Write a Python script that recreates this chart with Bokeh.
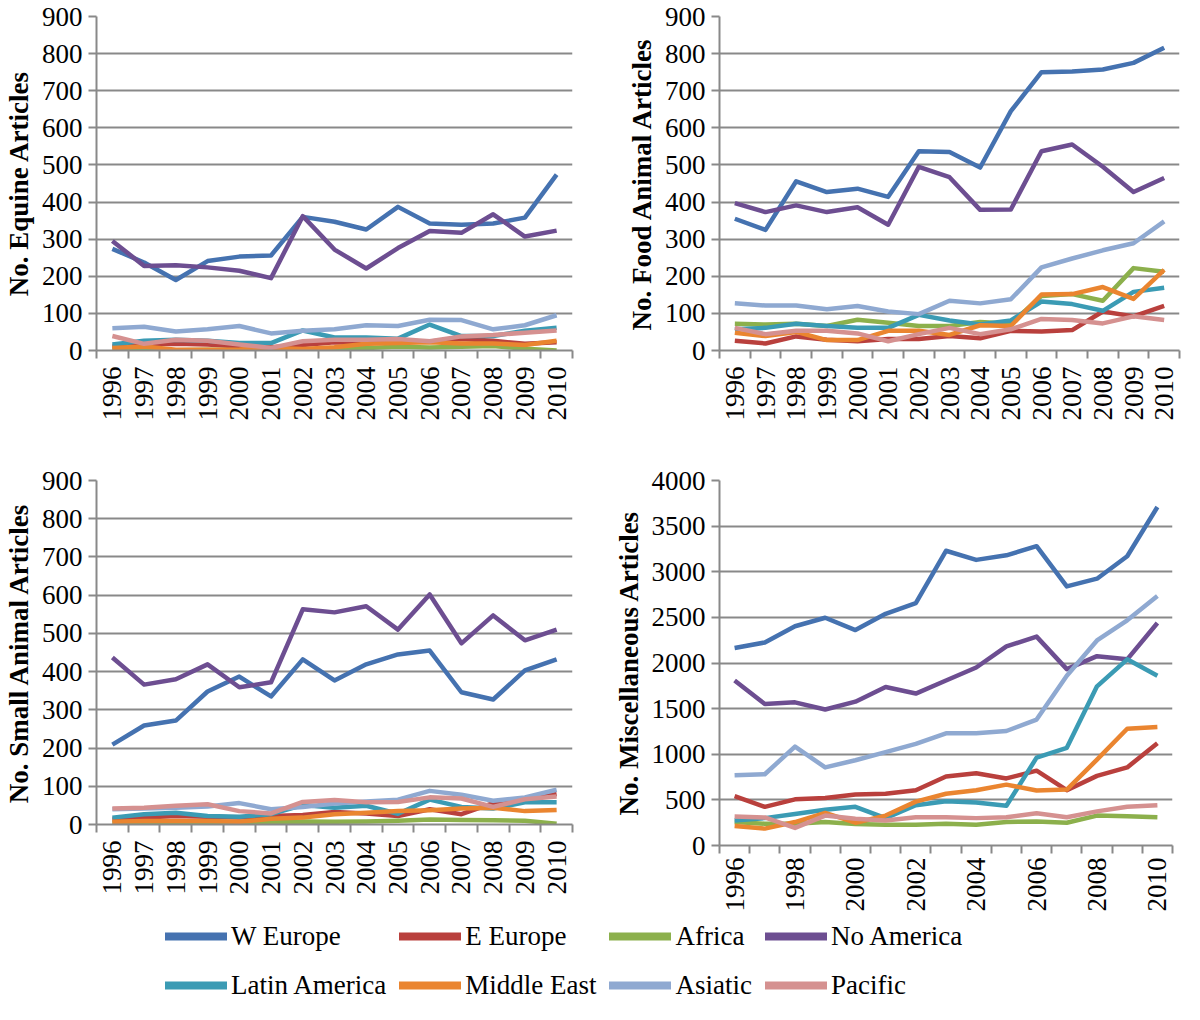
import math
from bokeh.plotting import figure
from bokeh.layouts import column, row
from bokeh.models import Range1d, FixedTicker, Legend, LegendItem
from bokeh.embed import file_html
from bokeh.resources import INLINE

years = list(range(1996, 2011))
regions = ["W Europe", "E Europe", "Africa", "No America",
           "Latin America", "Middle East", "Asiatic", "Pacific"]
colors = ["#4572B0", "#B9403D", "#8CB04C", "#6D4E91",
          "#3B9BB4", "#EA8530", "#8FA9D1", "#D59190"]

# Equine articles
eq_w_europe = [274, 237, 190, 241, 253, 256, 360, 347, 326, 387, 342, 339, 342, 358, 474]
eq_e_europe = [11, 16, 18, 16, 11, 9, 15, 22, 19, 26, 24, 31, 26, 18, 22]
eq_africa = [3, 2, 1, 2, 1, 0, 2, 4, 7, 10, 8, 10, 12, 5, 0]
eq_no_america = [295, 228, 230, 224, 215, 195, 362, 272, 221, 276, 322, 317, 367, 307, 323]
eq_latin_america = [16, 26, 29, 26, 20, 20, 54, 35, 35, 32, 70, 39, 39, 53, 61]
eq_middle_east = [7, 11, 2, 2, 3, 7, 4, 9, 18, 20, 22, 19, 19, 15, 26]
eq_asiatic = [60, 64, 51, 57, 66, 46, 53, 57, 68, 66, 83, 82, 57, 68, 95]
eq_pacific = [39, 18, 29, 26, 16, 7, 25, 29, 29, 31, 25, 38, 42, 48, 54]

# Food animal articles
fa_w_europe = [355, 325, 456, 427, 436, 414, 537, 535, 493, 645, 750, 752, 757, 775, 816]
fa_e_europe = [26, 19, 38, 29, 25, 31, 31, 39, 33, 53, 51, 55, 105, 92, 120]
fa_africa = [72, 70, 72, 66, 83, 75, 66, 66, 77, 72, 147, 152, 134, 222, 212]
fa_no_america = [397, 373, 391, 373, 386, 339, 495, 467, 379, 380, 537, 555, 495, 427, 465]
fa_latin_america = [57, 61, 72, 66, 61, 61, 96, 81, 70, 81, 132, 125, 107, 158, 169]
fa_middle_east = [48, 39, 50, 28, 28, 53, 53, 42, 68, 66, 151, 152, 171, 139, 217]
fa_asiatic = [127, 121, 121, 111, 120, 105, 98, 134, 127, 138, 224, 248, 270, 289, 348]
fa_pacific = [61, 44, 53, 53, 46, 25, 44, 61, 44, 57, 85, 82, 73, 92, 82]

# Small animal articles
sa_w_europe = [209, 259, 272, 348, 387, 335, 432, 377, 419, 445, 455, 346, 327, 403, 432]
sa_e_europe = [13, 18, 22, 20, 18, 22, 25, 33, 29, 22, 40, 27, 56, 66, 80]
sa_africa = [4, 5, 5, 4, 4, 6, 8, 7, 8, 10, 13, 12, 11, 10, 2]
sa_no_america = [437, 366, 380, 419, 359, 372, 563, 555, 571, 510, 602, 474, 547, 482, 510]
sa_latin_america = [18, 27, 31, 22, 20, 27, 51, 44, 49, 28, 65, 46, 42, 58, 58]
sa_middle_east = [7, 9, 9, 9, 7, 15, 18, 27, 31, 35, 37, 42, 44, 35, 38]
sa_asiatic = [40, 42, 44, 47, 56, 40, 46, 55, 60, 65, 88, 78, 62, 71, 91]
sa_pacific = [42, 44, 49, 53, 35, 29, 59, 64, 58, 59, 71, 68, 46, 66, 73]

# Miscellaneous articles
mi_w_europe = [2165, 2225, 2403, 2496, 2361, 2539, 2657, 3230, 3130, 3180, 3280, 2839, 2924, 3170, 3710]
mi_e_europe = [542, 424, 506, 521, 560, 567, 606, 756, 792, 735, 820, 606, 763, 856, 1120]
mi_africa = [257, 239, 239, 257, 235, 228, 228, 239, 228, 257, 264, 250, 328, 321, 310]
mi_no_america = [1808, 1551, 1569, 1491, 1576, 1737, 1665, 1808, 1951, 2182, 2289, 1933, 2075, 2040, 2439]
mi_latin_america = [275, 300, 346, 392, 424, 300, 442, 485, 471, 435, 963, 1070, 1744, 2040, 1861]
mi_middle_east = [214, 185, 257, 357, 250, 328, 481, 567, 606, 667, 603, 613, 941, 1280, 1298]
mi_asiatic = [770, 781, 1084, 856, 934, 1023, 1113, 1230, 1230, 1255, 1380, 1861, 2247, 2468, 2735]
mi_pacific = [317, 307, 193, 328, 292, 275, 310, 310, 300, 310, 353, 310, 374, 424, 442]

equine = [eq_w_europe, eq_e_europe, eq_africa, eq_no_america,
          eq_latin_america, eq_middle_east, eq_asiatic, eq_pacific]
food = [fa_w_europe, fa_e_europe, fa_africa, fa_no_america,
        fa_latin_america, fa_middle_east, fa_asiatic, fa_pacific]
small = [sa_w_europe, sa_e_europe, sa_africa, sa_no_america,
         sa_latin_america, sa_middle_east, sa_asiatic, sa_pacific]
misc = [mi_w_europe, mi_e_europe, mi_africa, mi_no_america,
        mi_latin_america, mi_middle_east, mi_asiatic, mi_pacific]

FONT = "Liberation Serif"
GRAY = "#898989"


def panel(series, ymax, ystep, title, xticks, width, height,
          bl, br, bt, bb, xstandoff):
    p = figure(width=width, height=height,
               x_range=Range1d(years[0] - 0.5, years[-1] + 0.5),
               y_range=Range1d(0, ymax),
               output_backend="svg", toolbar_location=None,
               min_border_left=bl, min_border_right=br,
               min_border_top=bt, min_border_bottom=bb)
    p.outline_line_color = None
    p.background_fill_color = "white"
    p.border_fill_color = "white"
    p.xgrid.visible = False
    p.ygrid.grid_line_color = GRAY
    p.ygrid.grid_line_width = 2

    p.yaxis.ticker = FixedTicker(ticks=list(range(0, ymax + 1, ystep)))
    p.yaxis.minor_tick_line_color = None
    p.yaxis.major_tick_out = 8
    p.yaxis.major_tick_in = 0
    p.yaxis.major_tick_line_color = GRAY
    p.yaxis.major_tick_line_width = 2
    p.yaxis.axis_line_color = GRAY
    p.yaxis.axis_line_width = 2
    p.yaxis.major_label_text_font = FONT
    p.yaxis.major_label_text_font_size = "27px"
    p.yaxis.major_label_text_color = "black"
    p.yaxis.major_label_standoff = 6
    p.yaxis.axis_label = title
    p.yaxis.axis_label_text_font = FONT
    p.yaxis.axis_label_text_font_style = "bold"
    p.yaxis.axis_label_text_font_size = "27px"
    p.yaxis.axis_label_text_color = "black"
    p.yaxis.axis_label_standoff = 5

    minor = [y - 0.5 for y in years] + [years[-1] + 0.5]
    p.xaxis.ticker = FixedTicker(ticks=xticks, minor_ticks=minor)
    p.xaxis.major_tick_line_color = None
    p.xaxis.minor_tick_out = 8
    p.xaxis.minor_tick_in = 0
    p.xaxis.minor_tick_line_color = GRAY
    p.xaxis.minor_tick_line_width = 2
    p.xaxis.axis_line_color = GRAY
    p.xaxis.axis_line_width = 2
    p.xaxis.major_label_orientation = math.pi / 2
    p.xaxis.major_label_text_font = FONT
    p.xaxis.major_label_text_font_size = "27px"
    p.xaxis.major_label_text_color = "black"
    p.xaxis.major_label_standoff = xstandoff

    for vals, c in zip(series, colors):
        p.line(years, vals, line_color=c, line_width=4.5, line_join="round")
    return p


p1 = panel(equine, 900, 100, "No. Equine Articles", years, 580, 462, 92, 8, 16, 112, 8)
p2 = panel(food, 900, 100, "No. Food Animal Articles", years, 604, 462, 139, 5, 16, 112, 8)
p3 = panel(small, 900, 100, "No. Small Animal Articles", years, 580, 452, 92, 8, 18, 90, 8)
p4 = panel(misc, 4000, 500, "No. Miscellaneous Articles", years[::2], 604, 452, 139, 12, 18, 66, 4)

# legend figure: its swatches reuse the series lines, kept outside its view range
lf = figure(width=1184, height=90, x_range=Range1d(0, 1), y_range=Range1d(0, 1),
            output_backend="svg", toolbar_location=None, min_border=0)
lf.axis.visible = False
lf.grid.visible = False
lf.outline_line_color = None
items = []
for name, vals, c in zip(regions, misc, colors):
    r = lf.line(years, vals, line_color=c, line_width=8, line_cap="round")
    items.append(LegendItem(label=name, renderers=[r]))
legend = Legend(items=items, location=(165, 1), ncols=4, orientation="horizontal",
                glyph_width=62, glyph_height=36, label_height=36,
                label_standoff=4, spacing=13, padding=0, margin=0,
                border_line_color=None, background_fill_alpha=0,
                label_text_font=FONT, label_text_font_size="27px",
                label_text_color="black")
lf.add_layout(legend)

layout = column(row(p1, p2), row(column(p3), column(p4)), lf, spacing=0)
open("out.html", "w").write(file_html(layout, INLINE))
